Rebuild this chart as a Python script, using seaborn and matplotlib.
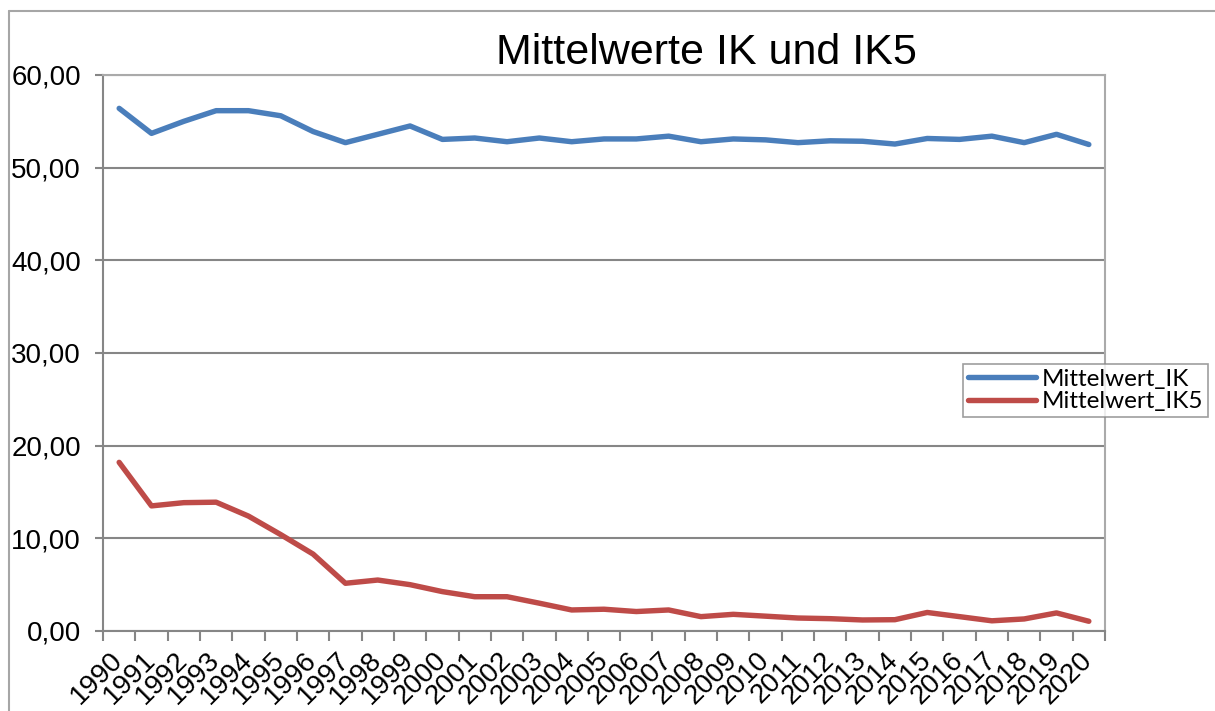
import seaborn as sns
import matplotlib.pyplot as plt
import pandas as pd
from matplotlib.ticker import FuncFormatter, FixedLocator
from matplotlib.lines import Line2D

# Daten
jahre = [str(j) for j in range(1990, 2021)]
mittelwert_ik = [56.4, 53.7, 55.0, 56.15, 56.15, 55.6, 53.9, 52.7, 53.6, 54.5,
                 53.05, 53.2, 52.8, 53.2, 52.8, 53.1, 53.1, 53.4, 52.8, 53.1,
                 53.0, 52.7, 52.9, 52.85, 52.55, 53.15, 53.05, 53.4, 52.7, 53.6, 52.5]
mittelwert_ik5 = [18.2, 13.5, 13.85, 13.9, 12.4, 10.4, 8.3, 5.15, 5.5, 5.0,
                  4.25, 3.7, 3.7, 3.0, 2.27, 2.35, 2.1, 2.27, 1.55, 1.8,
                  1.6, 1.4, 1.33, 1.19, 1.22, 2.0, 1.55, 1.1, 1.3, 1.95, 1.05]
serien = ["Mittelwert_IK", "Mittelwert_IK5"]
farben = ["#4A7EBB", "#BE4B48"]

df = pd.DataFrame({
    "pos": list(range(len(jahre))) * 2,
    "wert": mittelwert_ik + mittelwert_ik5,
    "serie": [serien[0]] * len(jahre) + [serien[1]] * len(jahre),
})

sns.set_style("white")
plt.rcParams["font.family"] = ["Liberation Sans", "DejaVu Sans"]
plt.rcParams["text.color"] = "black"
plt.rcParams["xtick.color"] = "black"
plt.rcParams["ytick.color"] = "black"

fig = plt.figure(figsize=(12.15, 7.11), dpi=100)
ax = fig.add_axes([103 / 1215, 1 - 631 / 711, (1105 - 103) / 1215, (631 - 75) / 711])

sns.lineplot(data=df, x="pos", y="wert", hue="serie", palette=farben,
             linewidth=3.9, ax=ax, legend=False, solid_capstyle="round")

ax.set_xlim(-0.5, len(jahre) - 0.5)
ax.set_ylim(0, 60)
ax.set_yticks(range(0, 61, 10))
ax.yaxis.set_major_formatter(FuncFormatter(lambda v, p: f"{v:.2f}".replace(".", ",")))
ax.grid(axis="y", color="#868686", linewidth=1.5)
ax.set_axisbelow(True)

ax.set_xticks(range(len(jahre)))
ax.set_xticklabels(jahre, rotation=45, ha="right", va="center", rotation_mode="anchor")
ax.xaxis.set_minor_locator(FixedLocator([i - 0.5 for i in range(len(jahre) + 1)]))
ax.tick_params(axis="x", which="major", length=0, pad=18.5, labelsize=20)
ax.tick_params(axis="x", which="minor", length=7, width=1.5, color="#868686", direction="out", bottom=True)
ax.tick_params(axis="y", length=6, width=1.5, color="#868686", labelcolor="black",
               direction="out", left=True, labelsize=20, pad=10)
ax.set_xlabel("")
ax.set_ylabel("")
for s in ax.spines.values():
    s.set_color("#868686")
    s.set_linewidth(1.5)
ax.spines["top"].set_color("#AAAAAA")
ax.spines["right"].set_color("#AAAAAA")

fig.text(706 / 1215, 1 - 53 / 711, "Mittelwerte IK und IK5", ha="center", va="center",
         fontsize=31, color="black")

# Diagrammrahmen
fig.add_artist(Line2D([9 / 1215, 9 / 1215], [0, 1 - 11 / 711], transform=fig.transFigure, color="#A6A6A6", linewidth=1.5))
fig.add_artist(Line2D([9 / 1215, 1], [1 - 11 / 711, 1 - 11 / 711], transform=fig.transFigure, color="#A6A6A6", linewidth=1.5))

handles = [Line2D([], [], color=c, linewidth=3.9, solid_capstyle="round") for c in farben]
leg = fig.legend(handles, serien, loc="upper left", bbox_to_anchor=(963 / 1215, 1 - 364 / 711),
                 frameon=True, fancybox=False, edgecolor="#868686", handlelength=2.8,
                 borderpad=0.2, labelspacing=0.05, handletextpad=0.25, borderaxespad=0,
                 prop={"family": ["Lato", "DejaVu Sans"], "size": 17.5})
leg.get_frame().set_linewidth(1.2)

fig.savefig("out.png", dpi=100)
